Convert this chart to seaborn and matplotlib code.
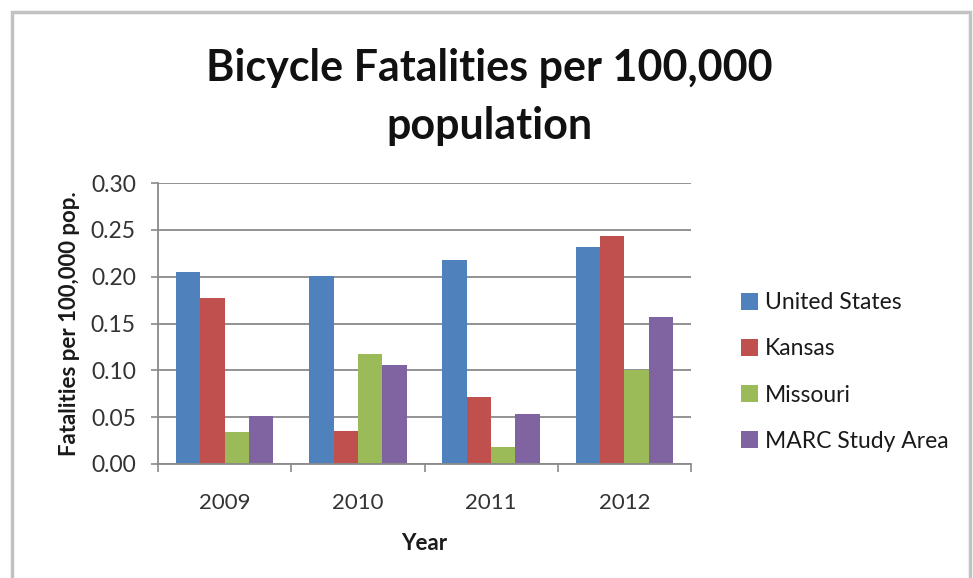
import matplotlib
matplotlib.use("Agg")
import matplotlib.pyplot as plt
from matplotlib.patches import Rectangle, Patch
import seaborn as sns
import pandas as pd

years = ["2009", "2010", "2011", "2012"]
regions = ["United States", "Kansas", "Missouri", "MARC Study Area"]
united_states = [0.205, 0.201, 0.218, 0.232]
kansas = [0.177, 0.035, 0.072, 0.243]
missouri = [0.034, 0.117, 0.018, 0.100]
marc_study_area = [0.051, 0.106, 0.053, 0.157]
y_ticks = [0.00, 0.05, 0.10, 0.15, 0.20, 0.25, 0.30]
colors = ["#4F81BD", "#C0504D", "#9BBB59", "#8064A2"]

series = [united_states, kansas, missouri, marc_study_area]
df = pd.DataFrame(
    [(y, r, v) for r, vals in zip(regions, series) for y, v in zip(years, vals)],
    columns=["Year", "Region", "Rate"],
)

sns.set_theme(style="white")
plt.rcParams["font.family"] = ["Lato", "DejaVu Sans"]

fig = plt.figure(figsize=(9.73, 5.78), dpi=100)
ax = fig.add_axes([158 / 973, 1 - 464 / 578, (691 - 158) / 973, (464 - 183) / 578])

sns.barplot(
    data=df, x="Year", y="Rate", hue="Region", hue_order=regions,
    palette=colors, width=0.73, gap=0, saturation=1, ax=ax,
    legend=False, linewidth=0,
)

ax.set_ylim(0, 0.30)
ax.set_xlim(-0.5, 3.5)
ax.set_yticks(y_ticks)
ax.set_yticklabels([f"{t:.2f}" for t in y_ticks])
ax.yaxis.grid(True, color="#8a8a8a", linewidth=1.3)
ax.set_axisbelow(True)

for side in ["top", "right"]:
    ax.spines[side].set_visible(False)
for side in ["left", "bottom"]:
    ax.spines[side].set_color("#8a8a8a")
    ax.spines[side].set_linewidth(1.3)

# category separators on the x axis
ax.set_xticks([-0.5, 0.5, 1.5, 2.5, 3.5], minor=True)
ax.tick_params(axis="x", which="minor", bottom=True, length=6, width=1.2, color="#8a8a8a")
ax.tick_params(axis="x", which="major", bottom=False, labelsize=16, labelcolor="#333333", pad=15)
ax.tick_params(axis="y", left=True, length=5, width=1.2, color="#8a8a8a",
               labelsize=16.5, labelcolor="#333333", pad=11)

ax.set_xlabel("Year", fontsize=16, fontweight="bold", color="#1a1a1a", labelpad=14)
ax.set_ylabel("Fatalities per 100,000 pop.", fontsize=16, fontweight="bold",
              color="#1a1a1a", labelpad=8)

fig.text(0.503, 1 - 97 / 578, "Bicycle Fatalities per 100,000\npopulation",
         ha="center", va="center", fontsize=31, fontweight="bold",
         color="#111111", linespacing=1.52)

handles = [Patch(facecolor=c, edgecolor="none") for c in colors]
fig.legend(handles, regions, loc="upper left",
           bbox_to_anchor=(732 / 973, 1 - 283 / 578), frameon=False,
           fontsize=16.5, handlelength=0.75, handleheight=0.75, handletextpad=0.3,
           labelspacing=1.1, labelcolor="#1a1a1a", borderaxespad=0)

# outer chart frame
fig.add_artist(Rectangle((12 / 973, -0.05), (970 - 12) / 973, 1.05 - 12 / 578,
                         transform=fig.transFigure, fill=False,
                         edgecolor="#c2c2c2", linewidth=2.5))

fig.savefig("out.png", dpi=100)
